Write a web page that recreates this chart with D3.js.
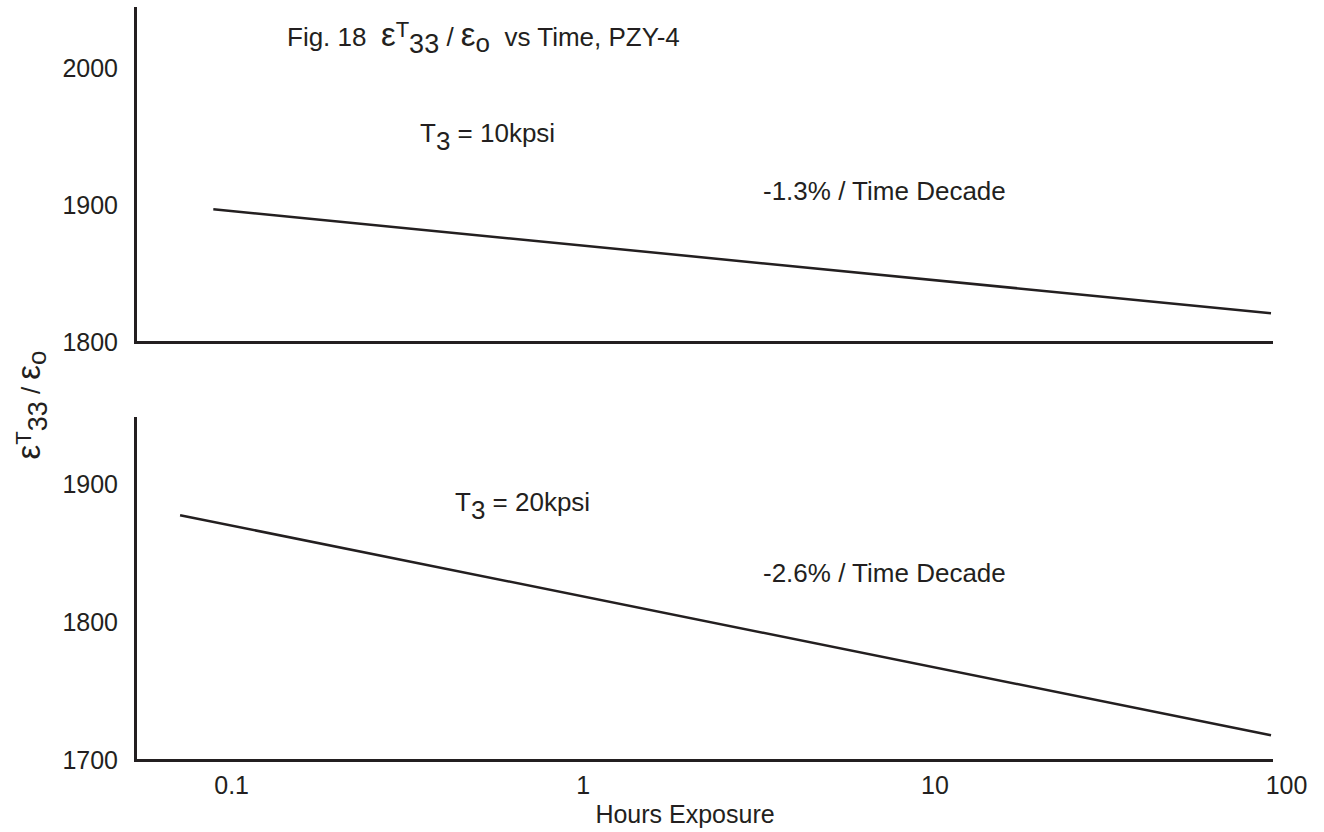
<!DOCTYPE html>
<html>
<head>
<meta charset="utf-8">
<script src="https://cdn.jsdelivr.net/npm/d3@7"></script>
<style>
  html, body { margin: 0; padding: 0; background: #fff; }
  svg text { font-family: Arial, "Liberation Sans", Helvetica, sans-serif; fill: #231f20; }
</style>
</head>
<body>
<svg id="chart" width="1324" height="832"></svg>
<script>
// ---- data ----
const xTickValues = [0.1, 1, 10, 100];
const xTickLabels = ["0.1", "1", "10", "100"];
const topYTicks = [1800, 1900, 2000];
const bottomYTicks = [1700, 1800, 1900];
const hours10kpsi = [0.089, 90.6];
const perm10kpsi = [1897, 1821];
const hours20kpsi = [0.0716, 90.6];
const perm20kpsi = [1877.5, 1718];
const xDomain = [0.0533, 90.6];
const topYDomain = [1800, 2044];
const bottomYDomain = [1700, 1948];

// ---- drawing ----
const ink = "#231f20";
const FS = 25;
const FA = 26;
const svg = d3.select("#chart");
svg.append("rect").attr("width", 1324).attr("height", 832).attr("fill", "#fff");

const x = d3.scaleLog().domain(xDomain).range([135, 1271]);
const yTop = d3.scaleLinear().domain(topYDomain).range([342, 8]);
const yBot = d3.scaleLinear().domain(bottomYDomain).range([760, 418]);

function styleAxis(g) {
  g.select(".domain").attr("stroke", ink).attr("stroke-width", 3).attr("stroke-linecap", "square");
  g.selectAll("text").attr("font-size", FS).attr("fill", ink)
    .attr("font-family", "Arial, 'Liberation Sans', sans-serif");
  g.selectAll(".tick line").remove();
}

// top panel axes
svg.append("g").attr("transform", "translate(135,0)")
  .call(d3.axisLeft(yTop).tickValues(topYTicks).tickSize(0).tickSizeOuter(0).tickPadding(17).tickFormat(d3.format("d")))
  .call(styleAxis);
svg.append("g").attr("transform", "translate(0,342)")
  .call(d3.axisBottom(x).tickValues([]).tickSize(0).tickSizeOuter(0))
  .call(styleAxis);

// bottom panel axes
svg.append("g").attr("transform", "translate(135,0)")
  .call(d3.axisLeft(yBot).tickValues(bottomYTicks).tickSize(0).tickSizeOuter(0).tickPadding(17).tickFormat(d3.format("d")))
  .call(styleAxis);
svg.append("g").attr("transform", "translate(0,760)")
  .call(d3.axisBottom(x).tickValues(xTickValues).tickSize(0).tickSizeOuter(0).tickPadding(16)
    .tickFormat((d, i) => xTickLabels[i]))
  .call(styleAxis);

// lines
const lineTop = d3.line().x(d => x(d[0])).y(d => yTop(d[1]));
const lineBot = d3.line().x(d => x(d[0])).y(d => yBot(d[1]));
svg.append("path").datum(d3.zip(hours10kpsi, perm10kpsi))
  .attr("d", lineTop).attr("fill", "none").attr("stroke", ink).attr("stroke-width", 2.5);
svg.append("path").datum(d3.zip(hours20kpsi, perm20kpsi))
  .attr("d", lineBot).attr("fill", "none").attr("stroke", ink).attr("stroke-width", 2.5);

// title
const title = svg.append("text").attr("x", 287).attr("y", 46).attr("font-size", FA);
title.append("tspan").text("Fig. 18 \u00a0");
title.append("tspan").attr("font-size", 33).text("\u03b5");
title.append("tspan").attr("font-size", 22).attr("dy", -9).text("T");
title.append("tspan").attr("font-size", 27).attr("dy", 16).text("33");
title.append("tspan").attr("dy", -7).text(" / ");
title.append("tspan").attr("font-size", 33).text("\u03b5");
title.append("tspan").attr("dy", 6).text("o");
title.append("tspan").attr("dy", -6).text(" \u00a0vs Time, PZY-4");

// annotations
function tLabel(px, py, num) {
  const t = svg.append("text").attr("x", px).attr("y", py).attr("font-size", FA);
  t.append("tspan").text("T");
  t.append("tspan").attr("dy", 8).text("3");
  t.append("tspan").attr("dy", -8).text(" = " + num + "kpsi");
}
tLabel(420, 142, 10);
tLabel(455, 511, 20);
svg.append("text").attr("x", 763).attr("y", 200).attr("font-size", FA).text("-1.3% / Time Decade");
svg.append("text").attr("x", 763).attr("y", 582).attr("font-size", FA).text("-2.6% / Time Decade");

// axis titles
svg.append("text").attr("x", 685).attr("y", 823).attr("text-anchor", "middle").attr("font-size", FS).text("Hours Exposure");

const yl = svg.append("text").attr("transform", "translate(40,405) rotate(-90)")
  .attr("text-anchor", "middle").attr("font-size", FA);
yl.append("tspan").attr("font-size", 33).text("\u03b5");
yl.append("tspan").attr("font-size", 22).attr("dy", -9).text("T");
yl.append("tspan").attr("font-size", 27).attr("dy", 16).text("33");
yl.append("tspan").attr("dy", -7).text(" / ");
yl.append("tspan").attr("font-size", 33).text("\u03b5");
yl.append("tspan").attr("dy", 6).text("o");
</script>
</body>
</html>
